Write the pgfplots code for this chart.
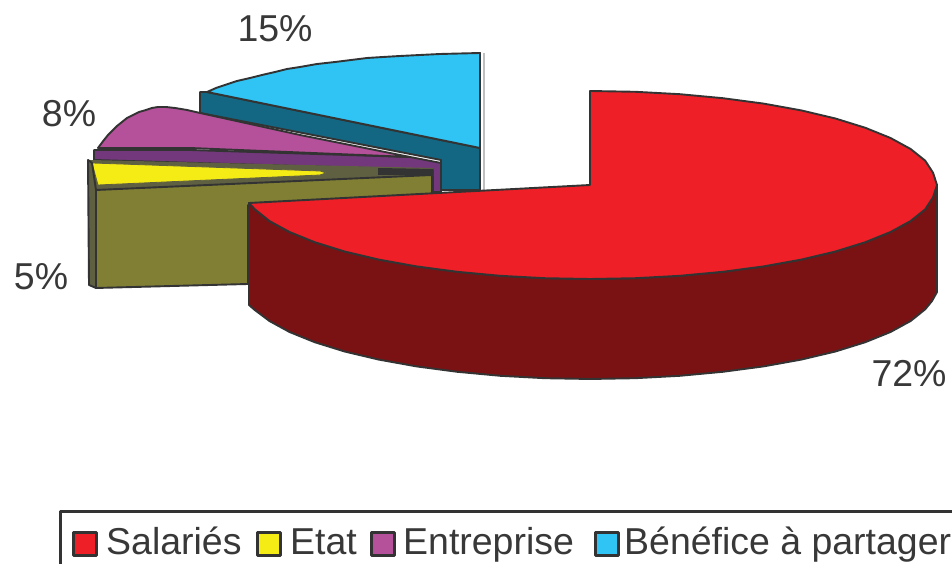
\documentclass[border=0pt]{standalone}
\usepackage{pgfplots}
\pgfplotsset{compat=1.18}
\usepackage{fontspec}
\setmainfont{Liberation Sans}
\definecolor{cred}{HTML}{EE1F26}
\definecolor{cdred}{HTML}{7A1214}
\definecolor{cblue}{HTML}{2FC4F4}
\definecolor{cteal}{HTML}{146783}
\definecolor{cpur}{HTML}{B5509A}
\definecolor{cdpur}{HTML}{73387C}
\definecolor{colive}{HTML}{807F33}
\definecolor{cyel}{HTML}{F5EC15}
\definecolor{cedge}{HTML}{333333}
\definecolor{cgrey}{HTML}{5F5F42}
\definecolor{ctxt}{HTML}{383838}
\begin{document}
\begin{tikzpicture}[x=1bp,y=1bp]
\useasboundingbox (0,0) rectangle (952,564);
\begin{axis}[at={(0,0)},anchor=south west,width=952bp,height=564bp,scale only axis,
  xmin=0,xmax=952,ymin=0,ymax=564,y dir=reverse,axis lines=none,clip=true,
  every axis plot/.append style={line join=round,line width=1.9bp,draw=cedge,no marks}]
% soft edge beside the blue slice
\addplot[draw=gray!50,line width=1.5bp] coordinates {(484,53)(484,190)};
% Benefice a partager 15%
\addplot[fill=cteal] coordinates {(200,92)(207,92)(480,148)(480,190)(441,190)(441,160)(200,113)} -- cycle;
\addplot[fill=cblue] coordinates {(207,92)(216,88)(225,85)(237,81)(250,78)(262,75)(275,72)(287,69)(300,67)(317,64)(335,62)(351,60)(367,58)(383,57)(400,56)(420,55)(440,54)(460,53.5)(480,53)(480,148)} -- cycle;
% Entreprise 8%
\addplot[fill=cdpur] coordinates {(94,150)(190,150)(410,157)(441,163)(441,192)(433,192)(433,170)(94,160)} -- cycle;
\addplot[fill=cpur] coordinates {(98,148)(101,144)(104,140)(108,135)(112,131)(117,126)(122,122)(127,118)(133,115)(139,112)(146,110)(152,108)(158,107)(166,107)(175,108)(187,110)(200,113)(300,135)(410,157)(190,148)} -- cycle;
% Etat 5%
\addplot[fill=cgrey,draw=none] coordinates {(90,160)(433,168)(433,176)(96,190)(90,186)} -- cycle;
\addplot[fill=cedge,draw=none] coordinates {(378,168)(433,169)(433,175)(378,175)} -- cycle;
\addplot[fill=cyel,line width=0.8bp,draw=cgrey] coordinates {(92,163)(320,171)(326,173)(320,175)(98,185)} -- cycle;
\addplot[fill=colive] coordinates {(96,190)(432,175)(432,195)(248,205)(248,284)(96,288)} -- cycle;
\addplot[fill=cgrey] coordinates {(88,160)(92,163)(96,190)(96,288)(89,285)} -- cycle;
% Salaries 72%
\addplot[fill=cdred] coordinates {(937,185)(929,197.3)(925.2,209.3)(910.6,221)(890.5,232)(865.3,242.2)(835.4,251.5)(801.2,259.6)(763.5,266.4)(722.8,271.8)(679.8,275.8)(635.3,278.2)(590,279)(544.7,278.2)(500.2,275.8)(457.2,271.8)(416.5,266.4)(378.8,259.6)(344.6,251.5)(314.7,242.2)(289.5,232)(269.4,221)(254.8,209.3)(249,203)
  (249,305)(254.8,310)(269.4,321)(289.5,332)(314.7,342.2)(344.6,351.5)(378.8,359.6)(416.5,366.4)(457.2,371.8)(500.2,375.8)(544.7,378.2)(590,379)(635.3,378.2)(679.8,375.8)(722.8,371.8)(763.5,366.4)(801.2,359.6)(835.4,351.5)(865.3,342.2)(890.5,332)(910.6,321)(925.2,309.3)(932,301)(937,292)} -- cycle;
\addplot[fill=cred] coordinates {(590,185)(590,91)(635.3,91.8)(679.8,94.2)(722.8,98.2)(763.5,103.6)(801.2,110.4)(835.4,118.5)(865.3,127.8)(890.5,138)(910.6,149)(925.2,160.7)(933,172.7)(937,185)(933,197.3)(925.2,209.3)(910.6,221)(890.5,232)(865.3,242.2)(835.4,251.5)(801.2,259.6)(763.5,266.4)(722.8,271.8)(679.8,275.8)(635.3,278.2)(590,279)(544.7,278.2)(500.2,275.8)(457.2,271.8)(416.5,266.4)(378.8,259.6)(344.6,251.5)(314.7,242.2)(289.5,232)(269.4,221)(254.8,209.3)(249,203)} -- cycle;
% Legend
\addplot[draw=cedge,line width=3bp] coordinates {(60,570)(60,511)(960,511)};
\addplot[fill=cred,line width=3bp] coordinates {(73,532)(96,532)(96,555)(73,555)} -- cycle;
\addplot[fill=cyel,line width=3bp] coordinates {(257,532)(280,532)(280,555)(257,555)} -- cycle;
\addplot[fill=cpur,line width=3bp] coordinates {(371,532)(394,532)(394,555)(371,555)} -- cycle;
\addplot[fill=cblue,line width=3bp] coordinates {(595,532)(618,532)(618,555)(595,555)} -- cycle;
\end{axis}
\begin{scope}[every node/.style={text=ctxt,font=\fontsize{37.6}{40}\selectfont,inner sep=0pt,anchor=base}]
\node[anchor=base] at (275,564-42) {15\%};
\node[anchor=base] at (69,564-127) {8\%};
\node[anchor=base] at (41,564-290) {5\%};
\node[anchor=base] at (909,564-387) {72\%};
\node[anchor=base west] at (106,564-555) {Salariés};
\node[anchor=base west] at (290,564-555) {Etat};
\node[anchor=base west] at (403,564-555) {Entreprise};
\node[anchor=base west] at (624,564-555) {Bénéfice à partager};
\end{scope}
\end{tikzpicture}
\end{document}
